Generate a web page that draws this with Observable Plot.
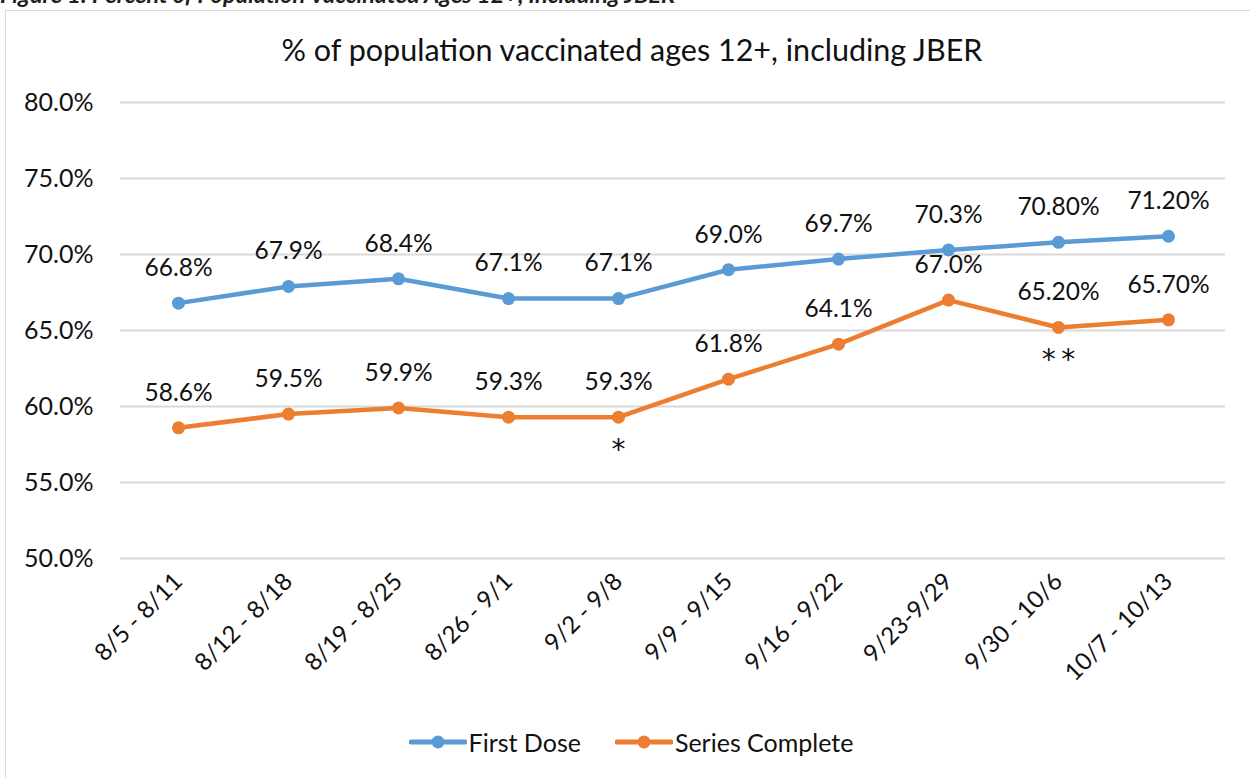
<!DOCTYPE html>
<html>
<head>
<meta charset="utf-8">
<script src="https://cdn.jsdelivr.net/npm/d3@7"></script>
<script src="https://cdn.jsdelivr.net/npm/@observablehq/plot@0.6"></script>
<style>
  html, body { margin: 0; padding: 0; background: #fff; overflow: hidden; }
  #wrap { position: relative; width: 1250px; height: 778px; overflow: hidden; font-family: Lato, "Open Sans", sans-serif; }
  #caption { position: absolute; left: 0; top: -20px; line-height: 1.2; font-size: 23.5px; font-weight: bold; font-style: italic; color: #1f1f1f; white-space: nowrap; }
  #frame { position: absolute; left: 5px; top: 10px; width: 1270px; height: 800px; border: 1.5px solid #d9d9d9; box-sizing: border-box; }
  #chart { position: absolute; left: 0; top: 0; }
  #title { position: absolute; left: 0; width: 1264px; top: 31px; line-height: 1.2; text-align: center; font-size: 30.5px; color: #111; }
  #legend { position: absolute; top: 727px; left: 0; width: 1262px; display: flex; justify-content: center; gap: 34px; font-size: 25px; color: #111; }
  .item { display: flex; align-items: center; gap: 2px; }
</style>
</head>
<body>
<div id="wrap">
  <div id="caption">Figure 1: Percent of Population Vaccinated Ages 12+, Including JBER</div>
  <div id="frame"></div>
  <div id="chart"></div>
  <div id="title">% of population vaccinated ages 12+, including JBER</div>
  <div id="legend"></div>
</div>
<script>
const weeks = ["8/5 - 8/11", "8/12 - 8/18", "8/19 - 8/25", "8/26 - 9/1", "9/2 - 9/8", "9/9 - 9/15", "9/16 - 9/22", "9/23-9/29", "9/30 - 10/6", "10/7 - 10/13"];
const firstDose = [66.8, 67.9, 68.4, 67.1, 67.1, 69.0, 69.7, 70.3, 70.8, 71.2];
const firstDoseLabels = ["66.8%", "67.9%", "68.4%", "67.1%", "67.1%", "69.0%", "69.7%", "70.3%", "70.80%", "71.20%"];
const seriesComplete = [58.6, 59.5, 59.9, 59.3, 59.3, 61.8, 64.1, 67.0, 65.2, 65.7];
const seriesCompleteLabels = ["58.6%", "59.5%", "59.9%", "59.3%", "59.3%", "61.8%", "64.1%", "67.0%", "65.20%", "65.70%"];
const yTicks = [50, 55, 60, 65, 70, 75, 80];
const seriesNames = ["First Dose", "Series Complete"];
const seriesColors = ["#5B9BD5", "#ED7D31"];
const notes = [{week: "9/2 - 9/8", series: "Series Complete", mark: "*"}, {week: "9/30 - 10/6", series: "Series Complete", mark: "*\u2009*"}];

const rows = [];
weeks.forEach((w, i) => {
  rows.push({week: w, series: seriesNames[0], value: firstDose[i], label: firstDoseLabels[i]});
  rows.push({week: w, series: seriesNames[1], value: seriesComplete[i], label: seriesCompleteLabels[i]});
});
const noteRows = notes.map(n => ({...n, value: rows.find(r => r.week === n.week && r.series === n.series).value}));

const font = "Lato, 'Open Sans', sans-serif";
const chart = Plot.plot({
  width: 1250,
  height: 778,
  marginLeft: 120,
  marginRight: 25,
  marginTop: 102,
  marginBottom: 220,
  style: {fontFamily: font, background: "transparent", color: "#111"},
  x: {type: "point", domain: weeks, padding: 0.5},
  y: {domain: [50, 80]},
  color: {domain: seriesNames, range: seriesColors},
  marks: [
    Plot.gridY(yTicks, {stroke: "#d9d9d9", strokeOpacity: 1, strokeWidth: 2}),
    Plot.axisY(yTicks, {tickSize: 0, tickPadding: 27, fontSize: 25, tickFormat: d => d.toFixed(1) + "%", label: null}),
    Plot.axisX({tickSize: 0, tickPadding: 19, tickRotate: -45, fontSize: 24, label: null}),
    Plot.line(rows, {x: "week", y: "value", z: "series", stroke: "series", strokeWidth: 4.5}),
    Plot.dot(rows, {x: "week", y: "value", fill: "series", r: 6.5}),
    Plot.text(rows, {x: "week", y: "value", text: "label", dy: -35, fontSize: 24.5, fill: "#111"}),
    Plot.text(noteRows, {x: "week", y: "value", text: "mark", dy: 33, fontSize: 28, fontFamily: "DejaVu Sans", fill: "#111"})
  ]
});
document.getElementById("chart").appendChild(chart);

const legend = document.getElementById("legend");
seriesNames.forEach((name, i) => {
  const item = document.createElement("div");
  item.className = "item";
  item.innerHTML = `<svg width="58" height="20"><line x1="2" y1="10" x2="56" y2="10" stroke="${seriesColors[i]}" stroke-width="5" stroke-linecap="round"/><circle cx="29" cy="10" r="6.5" fill="${seriesColors[i]}"/></svg><span>${name}</span>`;
  legend.appendChild(item);
});
</script>
</body>
</html>
